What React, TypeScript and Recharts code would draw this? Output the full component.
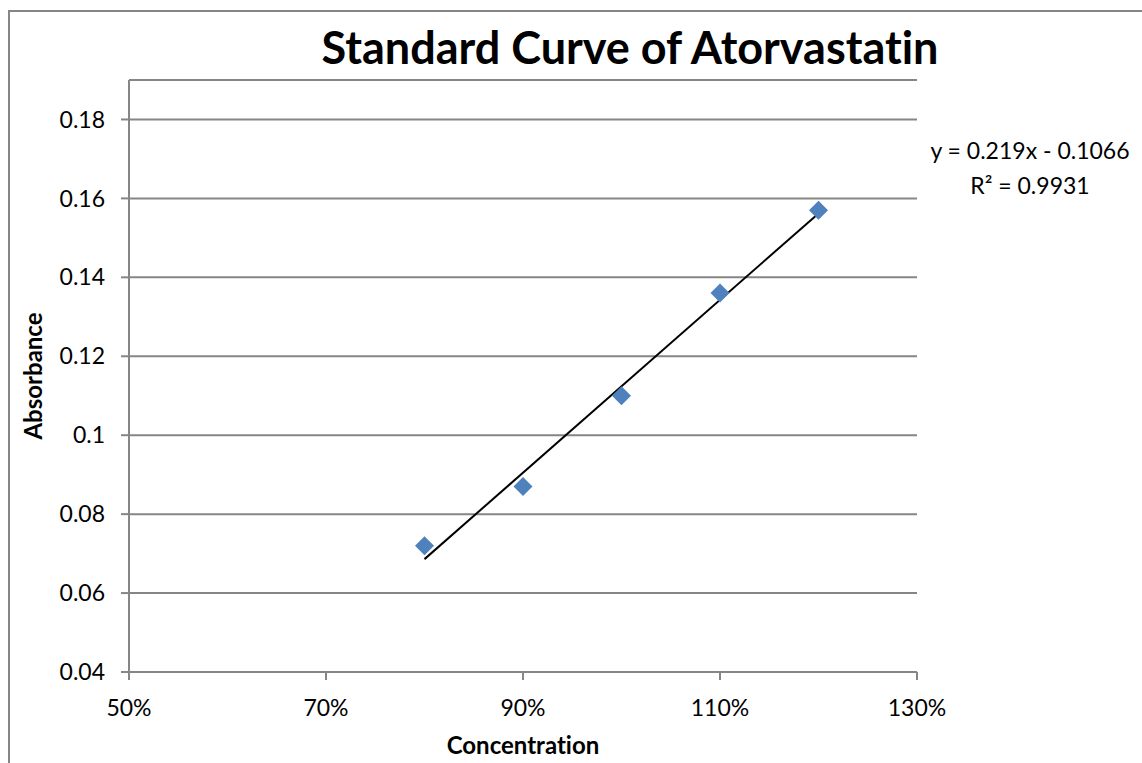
import { ScatterChart, Scatter, XAxis, YAxis, CartesianGrid, Label } from "recharts";

const concentration = [80, 90, 100, 110, 120];
const absorbance = [0.072, 0.087, 0.11, 0.136, 0.157];

// linear trendline end points (y = 0.219x - 0.1066)
const trendX = [80, 120];
const trendY = [0.0686, 0.1562];

const xTicks = [50, 70, 90, 110, 130];
const yTicks = [0.04, 0.06, 0.08, 0.1, 0.12, 0.14, 0.16, 0.18];

const points = concentration.map((x, i) => ({ x, y: absorbance[i] }));
const trend = trendX.map((x, i) => ({ x, y: trendY[i] }));

const FONT = "Lato, 'Open Sans', sans-serif";
const GRAY = "#868686";
const BLUE = "#4f81bd";

// eslint-disable-next-line @typescript-eslint/no-explicit-any
function Diamond(props: any) {
  const { cx, cy } = props;
  const r = 9.5;
  return (
    <polygon
      points={`${cx},${cy - r} ${cx + r},${cy} ${cx},${cy + r} ${cx - r},${cy}`}
      fill={BLUE}
    />
  );
}

export default function App() {
  return (
    <div
      style={{
        position: "absolute",
        left: 0,
        top: 0,
        width: 1142,
        height: 763,
        overflow: "hidden",
        background: "#fff",
        fontFamily: FONT,
        fontVariantLigatures: "none",
      }}
    >
      {/* outer chart frame */}
      <div
        style={{
          position: "absolute",
          left: 8,
          top: 10,
          width: 1300,
          height: 900,
          border: `2px solid ${GRAY}`,
        }}
      />

      {/* Title */}
      <div
        style={{
          position: "absolute",
          left: 0,
          width: 1260,
          top: 20,
          textAlign: "center",
          fontSize: 45,
          fontWeight: 700,
          color: "#000",
        }}
      >
        Standard Curve of Atorvastatin
      </div>

      {/* Trendline equation */}
      <div
        style={{
          position: "absolute",
          left: 900,
          width: 260,
          top: 133,
          textAlign: "center",
          fontSize: 23,
          lineHeight: "35px",
          color: "#000",
        }}
      >
        y = 0.219x - 0.1066
        <br />
        R² = 0.9931
      </div>

      <div style={{ position: "absolute", left: 0, top: 0 }}>
        <ScatterChart
          width={1142}
          height={763}
          margin={{ top: 80, right: 225, left: 69, bottom: 41 }}
        >
          <CartesianGrid horizontal vertical={false} stroke={GRAY} strokeWidth={2} />
          <XAxis
            type="number"
            dataKey="x"
            domain={[50, 130]}
            ticks={xTicks}
            tickFormatter={(v: number) => `${v}%`}
            height={50}
            axisLine={{ stroke: GRAY, strokeWidth: 2 }}
            tickLine={{ stroke: GRAY, strokeWidth: 2 }}
            tickSize={8}
            tickMargin={20}
            tick={{ fill: "#000", fontSize: 23, fontFamily: FONT }}
            interval={0}
          >
            <Label
              value="Concentration"
              position="insideBottom"
              offset={-32}
              style={{
                fill: "#000",
                fontSize: 24,
                fontWeight: 700,
                fontFamily: FONT,
                fontVariantLigatures: "none",
              }}
            />
          </XAxis>
          <YAxis
            type="number"
            dataKey="y"
            domain={[0.04, 0.19]}
            ticks={yTicks}
            width={60}
            axisLine={{ stroke: GRAY, strokeWidth: 2 }}
            tickLine={{ stroke: GRAY, strokeWidth: 2 }}
            tickSize={8}
            tickMargin={16}
            tick={{ fill: "#000", fontSize: 23, fontFamily: FONT }}
            interval={0}
            allowDataOverflow
          >
            <Label
              value="Absorbance"
              angle={-90}
              position="insideLeft"
              offset={-36}
              style={{
                fill: "#000",
                fontSize: 24,
                fontWeight: 700,
                fontFamily: FONT,
                textAnchor: "middle",
              }}
            />
          </YAxis>
          <Scatter
            data={trend}
            line={{ stroke: "#000", strokeWidth: 2 }}
            shape={() => <g />}
            isAnimationActive={false}
          />
          <Scatter data={points} shape={Diamond} isAnimationActive={false} />
        </ScatterChart>
      </div>
    </div>
  );
}
